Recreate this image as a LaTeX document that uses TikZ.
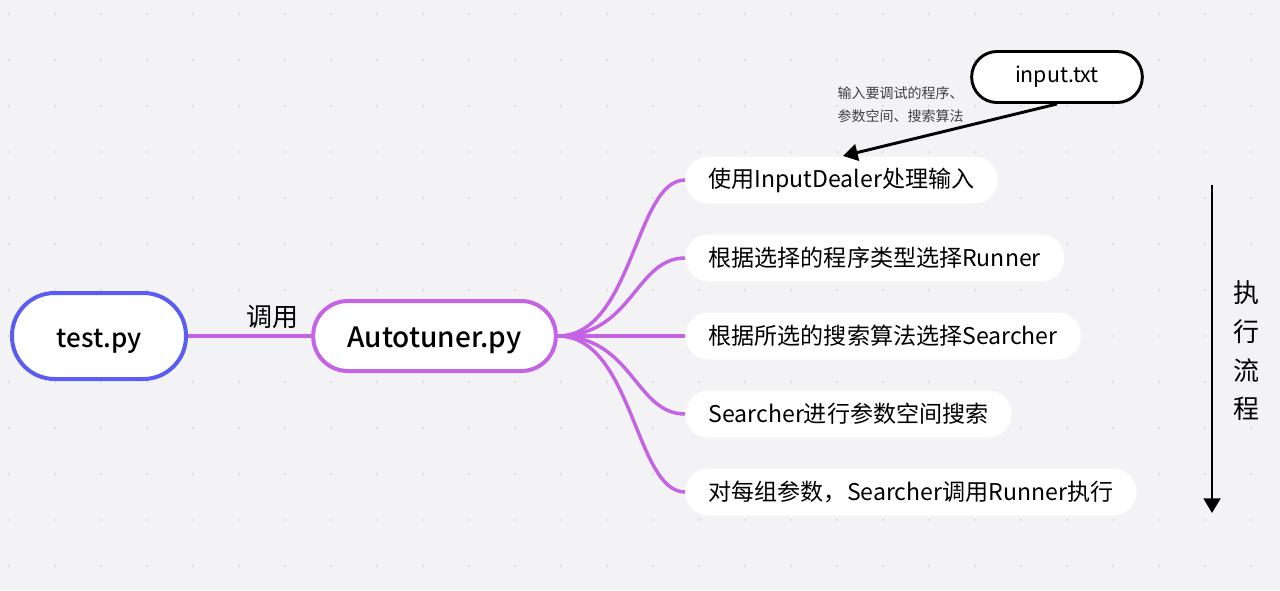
\documentclass[tikz,border=0pt]{standalone}
\usepackage{fontspec}
\setmainfont{Noto Sans CJK SC}[BoldFont={Noto Sans CJK SC Medium}]
\usetikzlibrary{arrows.meta,positioning}
\tikzset{>={Triangle[length=11pt,width=12.5pt]}}
\definecolor{paper}{HTML}{F3F3F5}
\definecolor{dotgray}{HTML}{D6D6DC}
\definecolor{rootblue}{HTML}{5A5CF2}
\definecolor{branch}{HTML}{C464E4}
\colorlet{notegray}{black!75}
\tikzstyle{root}=[draw=rootblue,line width=3pt,fill=white,rounded corners=32pt,
  minimum width=130.5pt,minimum height=64.5pt,text height=16.5pt,text depth=0pt,
  font=\bfseries\fontsize{19.5}{24}\selectfont]
\tikzstyle{hub}=[draw=branch,line width=3pt,fill=white,rounded corners=26pt,
  minimum width=182pt,minimum height=52.5pt,text height=16.5pt,text depth=0pt,
  font=\bfseries\fontsize{21}{25}\selectfont]
\tikzstyle{task}=[fill=white,rounded corners=17.5pt,minimum height=35.25pt,inner xsep=17.5pt,
  anchor=west,font=\fontsize{17.3}{20}\selectfont]
\tikzstyle{infile}=[draw=black,line width=2.2pt,fill=white,rounded corners=19pt,
  minimum width=128pt,minimum height=38.25pt,font=\fontsize{16}{19}\selectfont]
\tikzstyle{link}=[branch,line width=3pt]
\tikzstyle{flow}=[->,line width=2.2pt,black]
\def\px{0.75pt}

\begin{document}
\begin{tikzpicture}[x=\px,y=-\px]
  % PAPER
  \useasboundingbox (0,0) rectangle (1280,590);
  \fill[paper] (0,0) rectangle (1280,590);
  \foreach \i in {0,...,27}
    \foreach \j in {0,...,12}
      \fill[dotgray] (9+46*\i,14+46*\j) circle (0.9pt);

  % ROOT AND HUB
  \node[root] (test) at (99,336) {test.py};
  \node[hub] (tuner) at (434.5,336) {Autotuner.py};
  \draw[link] (test) -- node[pos=.69,above=1pt,black,font=\fontsize{19.5}{22}\selectfont] {调用} (tuner);

  % STEPS
  \foreach \t [count=\i] in {{使用InputDealer处理输入},{根据选择的程序类型选择Runner},
      {根据所选的搜索算法选择Searcher},{Searcher进行参数空间搜索},{对每组参数，Searcher调用Runner执行}}{
    \node[task] (c\i) at (685,102+78*\i) {\t};
    \draw[link,line width=2.6pt] (tuner.east) .. controls +(75,0) and +(-50,0) .. (c\i.west);
  }

  % INPUT
  \node[infile] (input) at (1057,77) {input.txt};
  \coordinate (inhere) at (843,156);
  \draw[flow] (input.south) -- (inhere);
  \node[notegray,align=left,anchor=west,font=\fontsize{10.5}{17}\selectfont] (notes) at (833,104.5)
    {输入要调试的程序、\\参数空间、搜索算法};

  % ORDER
  \coordinate (first) at (1212,185);
  \coordinate (last) at (1212,513);
  \draw[flow] (first) -- (last);
  \node[align=center,font=\fontsize{19.5}{29}\selectfont] (order) at (1246,351) {执\\行\\流\\程};
\end{tikzpicture}
\end{document}
